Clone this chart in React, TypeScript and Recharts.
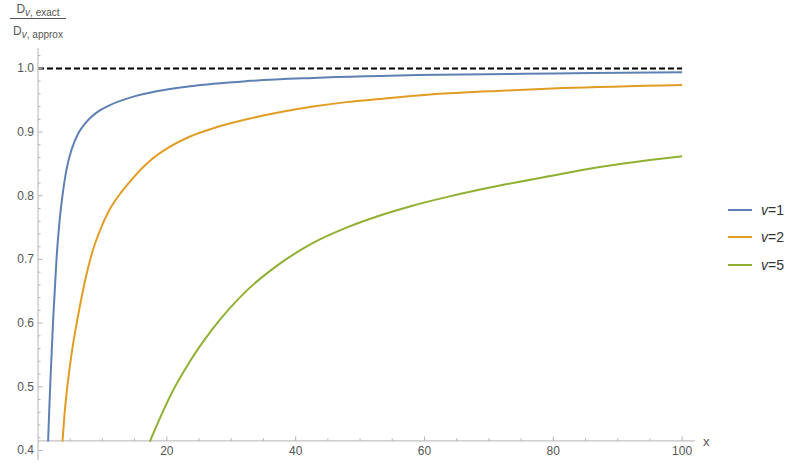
import { LineChart, Line, XAxis, YAxis, ReferenceLine } from "recharts";

const V1_X = [1.57, 1.75, 1.95, 2.35, 2.87, 3.3, 3.8, 4.5, 5.2, 6.2, 7.2, 8.3, 9.6, 11.1, 14.3, 18.4, 23.6, 32.4, 42.7, 62.4, 80, 100];
const V1_Y = [0.414, 0.465, 0.515, 0.605, 0.7, 0.755, 0.8, 0.845, 0.872, 0.897, 0.912, 0.924, 0.934, 0.942, 0.954, 0.964, 0.972, 0.98, 0.985, 0.99, 0.992, 0.994];

const V2_X = [3.8, 4.1, 4.55, 5.2, 5.87, 6.49, 7.27, 8.3, 9.6, 11.1, 12.97, 14.5, 17.4, 20.5, 23.6, 27.2, 32.4, 37.5, 42.7, 47.9, 53.1, 62.4, 72, 81.5, 100];
const V2_Y = [0.414, 0.455, 0.5, 0.551, 0.592, 0.626, 0.665, 0.707, 0.745, 0.778, 0.806, 0.825, 0.855, 0.877, 0.893, 0.906, 0.92, 0.931, 0.94, 0.947, 0.952, 0.96, 0.965, 0.969, 0.974];

const V5_X = [17.36, 18.9, 20.5, 23.6, 27.2, 32.4, 37.5, 42.7, 47.9, 53.1, 58, 63.9, 71.7, 79.5, 87.2, 95, 100];
const V5_Y = [0.414, 0.45, 0.485, 0.54, 0.592, 0.651, 0.693, 0.726, 0.75, 0.769, 0.784, 0.799, 0.816, 0.831, 0.845, 0.856, 0.862];

const EXACT_X = [0, 100];
const EXACT_Y = [1, 1];

const X_TICKS = [5, 10, 15, 20, 25, 30, 35, 40, 45, 50, 55, 60, 65, 70, 75, 80, 85, 90, 95, 100];
const Y_TICKS = [
  0.4, 0.42, 0.44, 0.46, 0.48, 0.5, 0.52, 0.54, 0.56, 0.58, 0.6, 0.62, 0.64, 0.66, 0.68, 0.7,
  0.72, 0.74, 0.76, 0.78, 0.8, 0.82, 0.84, 0.86, 0.88, 0.9, 0.92, 0.94, 0.96, 0.98, 1.0, 1.02,
];

const SERIES = [
  { name: "1", xs: V1_X, ys: V1_Y, color: "#5E81B5" },
  { name: "2", xs: V2_X, ys: V2_Y, color: "#E19C24" },
  { name: "5", xs: V5_X, ys: V5_Y, color: "#8FB032" },
];

const W = 800;
const H = 464;
const MARGIN = { top: 48, right: 105, bottom: 3, left: 37 };
const X_MAX = 102;
const Y_MIN = 0.385;
const Y_MAX = 1.032;
const X_AXIS_AT = 0.415;
const PLOT_H = H - MARGIN.top - MARGIN.bottom - 1;
const X_AXIS_SHIFT = ((X_AXIS_AT - Y_MIN) / (Y_MAX - Y_MIN)) * PLOT_H;

const AXIS = "#b3b3b3";
const LABEL = "#555";
const FONT = "'Liberation Sans', Arial, sans-serif";

const toPoints = (xs: number[], ys: number[]) => xs.map((x, i) => ({ x, y: ys[i] }));

function XTick({ x, y, payload }: any) {
  const v = payload.value;
  const major = v % 20 === 0;
  const ay = y - X_AXIS_SHIFT;
  return (
    <g>
      <line x1={x} x2={x} y1={ay} y2={ay - (major ? 4.5 : 2.5)} stroke={AXIS} />
      {major && (
        <text x={x} y={ay + 14.5} textAnchor="middle" fill={LABEL} fontSize={12} fontFamily={FONT}>
          {v}
        </text>
      )}
    </g>
  );
}

function YTick({ x, y, payload }: any) {
  const v = payload.value;
  const major = Math.abs(v * 10 - Math.round(v * 10)) < 1e-6;
  return (
    <g>
      <line x1={x} x2={x + (major ? 4.5 : 2.5)} y1={y} y2={y} stroke={AXIS} />
      {major && (
        <text x={x - 4} y={y} dy={4} textAnchor="end" fill={LABEL} fontSize={12} fontFamily={FONT}>
          {v.toFixed(1)}
        </text>
      )}
    </g>
  );
}

export default function App() {
  return (
    <div style={{ position: "absolute", left: 0, top: 0, width: W, height: H, background: "#fff", fontFamily: FONT }}>
      <LineChart width={W} height={H} margin={MARGIN}>
        <XAxis
          type="number"
          dataKey="x"
          domain={[0, X_MAX]}
          ticks={X_TICKS}
          interval={0}
          height={1}
          axisLine={false}
          tickLine={false}
          tickSize={0}
          tickMargin={0}
          tick={<XTick />}
          allowDataOverflow
        />
        <YAxis
          type="number"
          dataKey="y"
          domain={[Y_MIN, Y_MAX]}
          ticks={Y_TICKS}
          interval={0}
          width={1}
          axisLine={{ stroke: AXIS }}
          tickLine={false}
          tickSize={0}
          tickMargin={0}
          tick={<YTick />}
          allowDataOverflow
        />
        <ReferenceLine
          y={X_AXIS_AT}
          stroke={AXIS}
          label={{ value: "x", position: "right", offset: 8, fill: LABEL, fontSize: 13, fontFamily: FONT }}
        />
        <Line
          data={toPoints(EXACT_X, EXACT_Y)}
          dataKey="y"
          stroke="#000"
          strokeWidth={2}
          strokeDasharray="6 3"
          dot={false}
          isAnimationActive={false}
        />
        {SERIES.map((s) => (
          <Line
            key={s.name}
            data={toPoints(s.xs, s.ys)}
            dataKey="y"
            type="monotone"
            stroke={s.color}
            strokeWidth={2}
            dot={false}
            isAnimationActive={false}
          />
        ))}
      </LineChart>

      <div style={{ position: "absolute", left: 10, top: 3, width: 56, color: LABEL, textAlign: "center", lineHeight: 1 }}>
        <div style={{ fontSize: 12, paddingBottom: 3 }}>
          D<span style={{ fontSize: 10, position: "relative", top: 3 }}><i>v</i>, exact</span>
        </div>
        <div style={{ borderTop: `1px solid ${LABEL}` }} />
        <div style={{ fontSize: 12, paddingTop: 6 }}>
          D<span style={{ fontSize: 10, position: "relative", top: 3 }}><i>v</i>, approx</span>
        </div>
      </div>

      <div style={{ position: "absolute", left: 728, top: 196 }}>
        {SERIES.map((s) => (
          <div key={s.name} style={{ display: "flex", alignItems: "center", height: 27.5 }}>
            <div style={{ width: 24, height: 2, background: s.color, marginRight: 9 }} />
            <span style={{ fontSize: 14, color: "#333" }}>
              <i>v</i>={s.name}
            </span>
          </div>
        ))}
      </div>
    </div>
  );
}
